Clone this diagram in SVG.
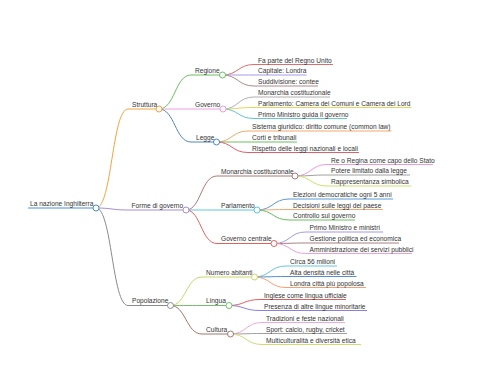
<svg xmlns="http://www.w3.org/2000/svg" width="480" height="384" viewBox="0 0 480 384">
<style>
text{font-family:"Liberation Sans",Arial,sans-serif;font-size:6.6px;fill:#333}
path{fill:none;stroke-width:1}
circle{fill:#fff;stroke-width:1}
</style>
<rect width="480" height="384" fill="#fff"/>
<g id="connectors">
<path d="M96 208C112 208 112 109 128 109" stroke="#f4a340"/>
<path d="M96 208C112 208 112 210 128 210" stroke="#a58fd6"/>
<path d="M96 208C112 208 112 305.5 128 305.5" stroke="#8a8a8a"/>
<path d="M159 109C175 109 175 75 191 75" stroke="#6abf5e"/>
<path d="M159 109C175 109 175 109 191 109" stroke="#ee9ee0"/>
<path d="M159 109C175 109 175 142 191 142" stroke="#4f86c6"/>
<path d="M186 210C201 210 201 176 217 176" stroke="#b07878"/>
<path d="M186 210C201 210 201 210 217 210" stroke="#5cc8d8"/>
<path d="M186 210C201 210 201 243.5 217 243.5" stroke="#e0625f"/>
<path d="M170.5 305.5C186 305.5 186 277 202 277" stroke="#c8d66a"/>
<path d="M170.5 305.5C186 305.5 186 305.5 202 305.5" stroke="#72c069"/>
<path d="M170.5 305.5C186 305.5 186 334 202 334" stroke="#a0786e"/>
<path d="M222.5 75C238 75 238 64.5 254 64.5" stroke="#e06c6c"/>
<path d="M222.5 75C238 75 238 75 254 75" stroke="#a89ae6"/>
<path d="M222.5 75C238 75 238 86 254 86" stroke="#b08a8a"/>
<path d="M223 109C238 109 238 97 254 97" stroke="#b0b0b0"/>
<path d="M223 109C238 109 238 107.5 254 107.5" stroke="#e8d45a"/>
<path d="M223 109C238 109 238 118.5 254 118.5" stroke="#62c6d6"/>
<path d="M216.5 142C232 142 232 131 248 131" stroke="#f2a86a"/>
<path d="M216.5 142C232 142 232 142 248 142" stroke="#6cbf60"/>
<path d="M216.5 142C232 142 232 152.5 248 152.5" stroke="#e0606a"/>
<path d="M295 176C311 176 311 164.5 327 164.5" stroke="#ee9ad6"/>
<path d="M295 176C311 176 311 175 327 175" stroke="#a0a0a0"/>
<path d="M295 176C311 176 311 186 327 186" stroke="#cfe070"/>
<path d="M257 210C273 210 273 199 289 199" stroke="#5a9ad8"/>
<path d="M257 210C273 210 273 209.5 289 209.5" stroke="#f4a870"/>
<path d="M257 210C273 210 273 220 289 220" stroke="#6cbf5e"/>
<path d="M274 243.5C290 243.5 290 232 305.5 232" stroke="#a898e0"/>
<path d="M274 243.5C290 243.5 290 243 305.5 243" stroke="#a88080"/>
<path d="M274 243.5C290 243.5 290 253.5 305.5 253.5" stroke="#f0a0d8"/>
<path d="M254.5 277C270 277 270 266 286 266" stroke="#60c8e0"/>
<path d="M254.5 277C270 277 270 276.5 286 276.5" stroke="#5090d0"/>
<path d="M254.5 277C270 277 270 287.5 286 287.5" stroke="#f4a070"/>
<path d="M229 305.5C244 305.5 244 299.5 260 299.5" stroke="#e06060"/>
<path d="M229 305.5C244 305.5 244 310.5 260 310.5" stroke="#8a80e0"/>
<path d="M230.5 334C246 334 246 322.5 262 322.5" stroke="#f0a8d8"/>
<path d="M230.5 334C246 334 246 333.5 262 333.5" stroke="#a0a0a0"/>
<path d="M230.5 334C246 334 246 344.5 262 344.5" stroke="#d0dc70"/>
</g>
<g id="root"><path d="M28 208H96" stroke="#4a90d9"/><text x="30" y="205.5">La nazione Inghilterra</text><circle cx="96" cy="208" r="3" stroke="#4a90d9"/></g>
<g id="struttura"><path d="M128 109H159" stroke="#f4a340"/><text x="132" y="106.5">Struttura</text><circle cx="159" cy="109" r="3" stroke="#f4a340"/></g>
<g id="forme"><path d="M128 210H186" stroke="#a58fd6"/><text x="131.5" y="207.5">Forme di governo</text><circle cx="186" cy="210" r="3" stroke="#a58fd6"/></g>
<g id="popolazione"><path d="M128 305.5H170.5" stroke="#8a8a8a"/><text x="132" y="303">Popolazione</text><circle cx="170.5" cy="305.5" r="3" stroke="#8a8a8a"/></g>
<g id="regione"><path d="M191 75H222.5" stroke="#6abf5e"/><text x="195" y="72.5">Regione</text><circle cx="222.5" cy="75" r="3" stroke="#6abf5e"/></g>
<g id="governo"><path d="M191 109H223" stroke="#ee9ee0"/><text x="195" y="106.5">Governo</text><circle cx="223" cy="109" r="3" stroke="#ee9ee0"/></g>
<g id="legge"><path d="M191 142H216.5" stroke="#4f86c6"/><text x="196" y="139.5">Legge</text><circle cx="216.5" cy="142" r="3" stroke="#4f86c6"/></g>
<g id="monarchia"><path d="M217 176H295" stroke="#b07878"/><text x="221" y="173.5">Monarchia costituzionale</text><circle cx="295" cy="176" r="3" stroke="#b07878"/></g>
<g id="parlamento"><path d="M217 210H257" stroke="#5cc8d8"/><text x="221" y="207.5">Parlamento</text><circle cx="257" cy="210" r="3" stroke="#5cc8d8"/></g>
<g id="governo-centrale"><path d="M217 243.5H274" stroke="#e0625f"/><text x="221" y="241">Governo centrale</text><circle cx="274" cy="243.5" r="3" stroke="#e0625f"/></g>
<g id="numero"><path d="M202 277H254.5" stroke="#c8d66a"/><text x="206" y="274.5">Numero abitanti</text><circle cx="254.5" cy="277" r="3" stroke="#c8d66a"/></g>
<g id="lingua"><path d="M202 305.5H229" stroke="#72c069"/><text x="206" y="303">Lingua</text><circle cx="229" cy="305.5" r="3" stroke="#72c069"/></g>
<g id="cultura"><path d="M202 334H230.5" stroke="#a0786e"/><text x="206" y="331.5">Cultura</text><circle cx="230.5" cy="334" r="3" stroke="#a0786e"/></g>
<g id="l1"><path d="M254 64.5H333" stroke="#e06c6c"/><text x="258" y="62.5">Fa parte del Regno Unito</text></g>
<g id="l2"><path d="M254 75H306.5" stroke="#a89ae6"/><text x="258" y="73">Capitale: Londra</text></g>
<g id="l3"><path d="M254 86H318" stroke="#b08a8a"/><text x="258" y="84">Suddivisione: contee</text></g>
<g id="l4"><path d="M254 97H330" stroke="#b0b0b0"/><text x="258" y="95">Monarchia costituzionale</text></g>
<g id="l5"><path d="M254 107.5H411.5" stroke="#e8d45a"/><text x="258" y="105.5">Parlamento: Camera dei Comuni e Camera dei Lord</text></g>
<g id="l6"><path d="M254 118.5H347" stroke="#62c6d6"/><text x="258" y="116.5">Primo Ministro guida il governo</text></g>
<g id="l7"><path d="M248 131H391.5" stroke="#f2a86a"/><text x="252" y="129">Sistema giuridico: diritto comune (common law)</text></g>
<g id="l8"><path d="M248 142H297" stroke="#6cbf60"/><text x="252" y="140">Corti e tribunali</text></g>
<g id="l9"><path d="M248 152.5H359" stroke="#e0606a"/><text x="252" y="150.5">Rispetto delle leggi nazionali e locali</text></g>
<g id="l10"><path d="M327 164.5H433" stroke="#ee9ad6"/><text x="331" y="162.5">Re o Regina come capo dello Stato</text></g>
<g id="l11"><path d="M327 175H410" stroke="#a0a0a0"/><text x="331" y="173">Potere limitato dalla legge</text></g>
<g id="l12"><path d="M327 186H411.5" stroke="#cfe070"/><text x="331" y="184">Rappresentanza simbolica</text></g>
<g id="l13"><path d="M289 199H393" stroke="#5a9ad8"/><text x="293" y="197">Elezioni democratiche ogni 5 anni</text></g>
<g id="l14"><path d="M289 209.5H383" stroke="#f4a870"/><text x="293" y="207.5">Decisioni sulle leggi del paese</text></g>
<g id="l15"><path d="M289 220H355" stroke="#6cbf5e"/><text x="293" y="218">Controllo sul governo</text></g>
<g id="l16"><path d="M305.5 232H383" stroke="#a898e0"/><text x="309.5" y="230">Primo Ministro e ministri</text></g>
<g id="l17"><path d="M305.5 243H399" stroke="#a88080"/><text x="309.5" y="241">Gestione politica ed economica</text></g>
<g id="l18"><path d="M305.5 253.5H412" stroke="#f0a0d8"/><text x="309.5" y="251.5">Amministrazione dei servizi pubblici</text></g>
<g id="l19"><path d="M286 266H337" stroke="#60c8e0"/><text x="290" y="264">Circa 56 milioni</text></g>
<g id="l20"><path d="M286 276.5H356.5" stroke="#5090d0"/><text x="290" y="274.5">Alta densità nelle città</text></g>
<g id="l21"><path d="M286 287.5H366" stroke="#f4a070"/><text x="290" y="285.5">Londra città più popolosa</text></g>
<g id="l22"><path d="M260 299.5H346" stroke="#e06060"/><text x="264" y="297.5">Inglese come lingua ufficiale</text></g>
<g id="l23"><path d="M260 310.5H367" stroke="#8a80e0"/><text x="264" y="308.5">Presenza di altre lingue minoritarie</text></g>
<g id="l24"><path d="M262 322.5H345" stroke="#f0a8d8"/><text x="266" y="320.5">Tradizioni e feste nazionali</text></g>
<g id="l25"><path d="M262 333.5H347" stroke="#a0a0a0"/><text x="266" y="331.5">Sport: calcio, rugby, cricket</text></g>
<g id="l26"><path d="M262 344.5H361" stroke="#d0dc70"/><text x="266" y="342.5">Multiculturalità e diversità etica</text></g>
</svg>
